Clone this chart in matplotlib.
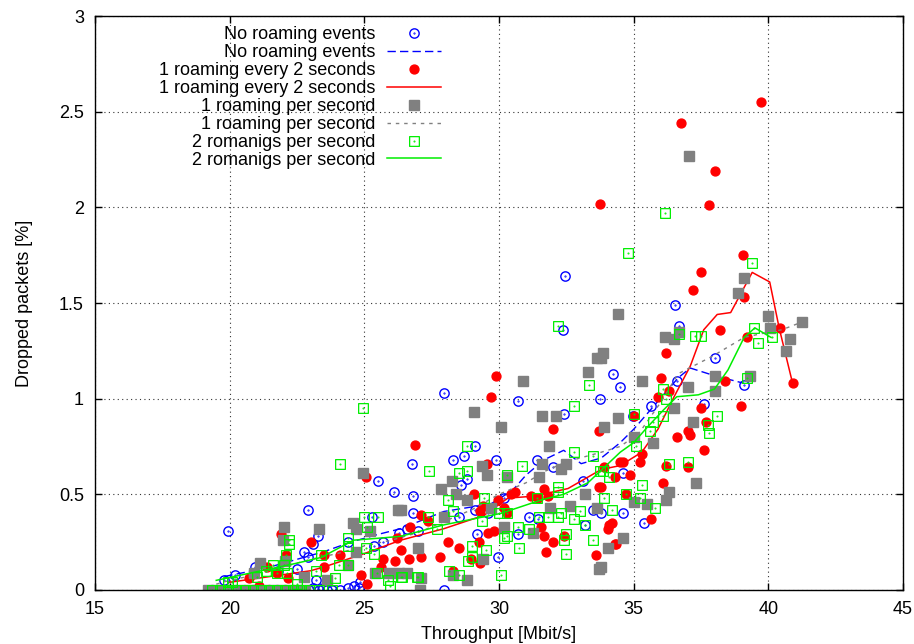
import matplotlib
matplotlib.use("Agg")
import matplotlib.pyplot as plt
from matplotlib.path import Path

plt.rcParams['font.family'] = ['Liberation Sans', 'DejaVu Sans']
plt.rcParams['font.size'] = 13

# ---- scatter data ----
blue_x = [19.95, 22.9, 23.27, 22.75, 22.9, 23.1, 20.2, 20.95, 19.8, 21.8, 22.5, 23.2, 23.1, 23.45,
          23.8, 24.1, 24.4, 24.8, 24.85, 24.6, 25.5, 25.3, 26.1, 26.76, 26.8, 26.8, 25.7, 26.3,
          27.0, 25.35, 24.4, 26.6, 27.95, 28.3, 28.7, 29.1, 29.9, 28.8, 28.6, 28.5, 29.1, 29.6,
          30.2, 29.2, 29.96, 27.95, 30.7, 31.1, 31.45, 32.0, 33.1, 33.5, 33.8, 33.2, 30.7, 32.4,
          33.76, 32.45, 32.38, 34.24, 34.5, 36.55, 36.7, 38.0, 36.6, 35.65, 34.98, 37.6, 39.08,
          34.6, 34.6, 35.4, 31.4, 22.95, 23.3, 23.6]
blue_y = [0.31, 0.42, 0.28, 0.2, 0.17, 0.24, 0.08, 0.12, 0.05, 0.1, 0.11, 0.05, 0.01, 0.01,
          0.0, 0.0, 0.01, 0.01, 0.04, 0.02, 0.57, 0.38, 0.51, 0.66, 0.4, 0.49, 0.25, 0.3,
          0.31, 0.23, 0.25, 0.32, 1.03, 0.68, 0.70, 0.75, 0.68, 0.58, 0.55, 0.38, 0.42, 0.4,
          0.48, 0.29, 0.17, 0.0, 0.29, 0.38, 0.37, 0.64, 0.57, 0.42, 0.4, 0.34, 0.99, 0.92,
          1.0, 1.64, 1.36, 1.13, 1.06, 1.49, 1.38, 1.21, 1.09, 0.96, 0.91, 0.97, 1.07,
          0.61, 0.4, 0.35, 0.68, 0.0, 0.0, 0.0]

red_x = [39.71, 36.77, 38.0, 37.81, 33.76, 39.04, 37.5, 37.2, 39.08, 40.42, 39.2, 40.9, 39.0,
         38.2, 36.2, 36.0, 36.3, 35.9, 38.4, 37.5, 37.7, 37.0, 37.1, 36.6, 37.6, 35.3, 35.25,
         34.6, 36.2, 37.0, 35.0, 34.85, 34.3, 36.07, 35.65, 34.2, 33.8, 34.05, 34.3, 34.7,
         32.0, 33.7, 26.87, 29.55, 29.07, 30.45, 30.6, 29.96, 29.4, 30.2, 31.67, 31.8, 31.45,
         31.2, 27.1, 26.7, 27.35, 29.3, 30.3, 31.56, 31.26, 31.67, 32.0, 31.75, 32.4, 28.1,
         28.5, 29.6, 29.8, 29.25, 29.3, 28.95, 27.8, 27.1, 26.65, 26.35, 28.3, 33.7, 34.1,
         34.35, 33.6, 34.5, 33.9, 25.05, 26.2, 25.7, 26.15, 24.86, 25.1, 25.6, 24.1, 23.5,
         23.5, 23.0, 21.9, 22.1, 21.4, 21.77, 20.7, 21.1, 22.15, 29.9, 29.7]
red_y = [2.55, 2.44, 2.19, 2.01, 2.02, 1.75, 1.66, 1.57, 1.53, 1.37, 1.32, 1.08, 0.96,
         1.36, 1.24, 1.11, 1.04, 1.01, 1.09, 0.95, 0.88, 0.83, 0.81, 0.8, 0.73, 0.71, 0.67,
         0.67, 0.65, 0.64, 0.91, 0.6, 0.59, 0.56, 0.37, 0.35, 0.54, 0.32, 0.24, 0.5,
         0.84, 0.83, 0.76, 0.66, 0.5, 0.5, 0.51, 0.47, 0.44, 0.43, 0.53, 0.49, 0.48,
         0.49, 0.39, 0.33, 0.36, 0.41, 0.4, 0.33, 0.3, 0.28, 0.25, 0.2, 0.28, 0.25,
         0.22, 0.3, 0.31, 0.25, 0.14, 0.16, 0.17, 0.17, 0.16, 0.21, 0.1, 0.54, 0.34,
         0.24, 0.18, 0.67, 0.64, 0.59, 0.27, 0.16, 0.15, 0.08, 0.03, 0.12, 0.18, 0.18,
         0.12, 0.25, 0.29, 0.18, 0.12, 0.09, 0.06, 0.02, 0.06, 1.12, 1.01]

gray_x = [37.07, 39.08, 38.86, 40.0, 40.05, 41.24, 40.8, 40.65, 39.3, 36.15, 36.5, 36.7, 33.87,
          33.8, 35.3, 38.0, 37.0, 38.0, 36.5, 34.4, 33.9, 37.2, 35.0, 35.7, 37.3, 36.3, 36.2,
          35.5, 35.0, 34.6, 34.05, 33.8, 34.4, 33.65, 33.3, 30.9, 29.07, 31.6, 32.1, 30.07,
          31.86, 31.6, 32.5, 32.3, 31.5, 29.37, 29.55, 30.3, 28.25, 27.84, 28.4, 28.8, 29.7,
          31.9, 32.64, 33.2, 33.65, 27.95, 26.35, 27.0, 30.2, 31.26, 33.7, 29.4, 28.8, 28.3,
          26.6, 27.05, 27.1, 24.94, 26.23, 24.56, 24.68, 25.2, 22.0, 21.96, 23.3, 24.7, 23.6,
          22.75, 20.9, 22.07, 21.14, 25.4, 25.9, 26.27, 24.4,
          19.2, 19.5, 19.8, 20.1, 20.4, 20.7, 21.0, 21.3, 21.6, 21.9, 22.2, 22.5, 22.8]
gray_y = [2.27, 1.63, 1.55, 1.43, 1.37, 1.40, 1.31, 1.25, 1.12, 1.32, 1.31, 1.35, 1.24,
          1.21, 1.09, 1.12, 1.06, 1.04, 0.95, 0.9, 0.85, 0.88, 0.8, 0.77, 0.56, 0.51, 0.47,
          0.45, 0.46, 0.27, 0.22, 0.12, 1.44, 1.21, 1.14, 1.09, 0.93, 0.91, 0.91, 0.85,
          0.75, 0.66, 0.66, 0.63, 0.59, 0.65, 0.6, 0.59, 0.57, 0.53, 0.5, 0.47, 0.43,
          0.43, 0.44, 0.5, 0.43, 0.38, 0.42, 0.22, 0.33, 0.3, 0.11, 0.16, 0.05, 0.08,
          0.09, 0.0, 0.06, 0.61, 0.42, 0.35, 0.32, 0.31, 0.33, 0.26, 0.32, 0.2, 0.05,
          0.07, 0.09, 0.15, 0.14, 0.09, 0.09, 0.09, 0.13,
          0, 0, 0, 0, 0, 0, 0, 0, 0, 0, 0, 0, 0]

green_x = [36.18, 34.8, 32.19, 24.94, 24.1, 39.4, 39.45, 40.15, 39.6, 39.2, 36.7, 37.26, 37.5,
           33.35, 32.8, 38.1, 37.74, 37.8, 36.1, 36.2, 35.0, 36.07, 35.7, 35.6, 35.1, 36.3,
           37.0, 33.87, 34.1, 35.3, 34.7, 35.25, 35.8, 33.9, 34.2, 28.8, 27.4, 28.5, 28.8,
           30.85, 30.3, 32.8, 33.5, 33.75, 32.2, 32.2, 28.1, 29.45, 31.4, 28.3, 30.0, 30.3,
           32.3, 33.0, 31.5, 31.8, 32.2, 32.8, 33.2, 27.35, 29.37, 30.7, 31.1, 27.7, 30.3,
           30.2, 32.5, 32.4, 33.5, 29.0, 29.5, 30.75, 28.84, 29.0, 32.5, 28.14, 28.5, 26.4,
           27.0, 30.07, 24.97, 25.5, 25.1, 24.4, 24.4, 25.05, 25.35, 22.2, 22.2, 22.1, 23.4,
           24.05, 24.4, 23.2, 23.9, 22.0, 21.6, 21.35, 21.77, 22.14, 21.0, 20.1, 19.95, 22.5,
           25.45, 25.87, 25.94, 26.35, 26.95,
           19.35, 19.65, 19.95, 20.25, 20.55, 20.85, 21.15, 21.45, 21.75, 22.05, 22.35, 22.65,
           22.95, 23.3, 23.8]
green_y = [1.97, 1.76, 1.38, 0.95, 0.66, 1.71, 1.37, 1.32, 1.29, 1.11, 1.34, 1.33, 1.33,
           1.07, 0.96, 0.91, 0.86, 0.82, 1.05, 1.0, 0.92, 0.91, 0.88, 0.83, 0.75, 0.66,
           0.67, 0.62, 0.59, 0.55, 0.5, 0.48, 0.43, 0.48, 0.42, 0.75, 0.62, 0.61, 0.62,
           0.65, 0.6, 0.72, 0.7, 0.62, 0.54, 0.51, 0.47, 0.48, 0.48, 0.41, 0.4, 0.4,
           0.4, 0.41, 0.38, 0.38, 0.38, 0.37, 0.34, 0.38, 0.36, 0.33, 0.32, 0.32, 0.28,
           0.27, 0.29, 0.26, 0.26, 0.23, 0.21, 0.22, 0.15, 0.17, 0.19, 0.1, 0.08, 0.07,
           0.07, 0.08, 0.38, 0.38, 0.33, 0.27, 0.23, 0.22, 0.19, 0.26, 0.24, 0.18, 0.18,
           0.13, 0.13, 0.1, 0.06, 0.13, 0.13, 0.1, 0.09, 0.09, 0.07, 0.04, 0.04, 0.03,
           0.09, 0.05, 0.02, 0.07, 0.07,
           0, 0, 0, 0, 0, 0, 0, 0, 0, 0, 0, 0,
           0, 0, 0]

# ---- smoothed curves ----
blue_lx = [19.8, 20.5, 21.5, 22.5, 23.5, 24.5, 25.5, 26.35, 27.95, 29.7, 30.5, 31.0, 31.67,
           32.4, 33.05, 33.8, 34.5, 35.0, 35.8, 36.66, 37.1, 38.0, 39.1]
blue_ly = [0.07, 0.09, 0.12, 0.16, 0.2, 0.25, 0.29, 0.32, 0.41, 0.45, 0.52, 0.6, 0.68,
           0.73, 0.66, 0.69, 0.77, 0.84, 0.97, 1.11, 1.16, 1.12, 1.08]

red_lx = [20.0, 21.0, 22.0, 23.0, 23.5, 25.0, 26.35, 27.95, 29.44, 30.33, 31.3, 32.56, 33.8,
          34.5, 35.3, 35.9, 36.5, 37.1, 37.6, 38.1, 38.6, 39.4, 40.05, 40.4, 40.9]
red_ly = [0.04, 0.06, 0.08, 0.1, 0.12, 0.19, 0.26, 0.32, 0.39, 0.48, 0.49, 0.53, 0.63,
          0.65, 0.72, 0.84, 1.01, 1.17, 1.36, 1.44, 1.45, 1.66, 1.61, 1.37, 1.08]

gray_lx = [19.5, 20, 21, 22, 23, 24, 25, 26, 27, 28, 29, 30, 31, 31.7, 32.5, 33.8, 34.5,
           35.2, 36.0, 36.65, 37.9, 39.1, 39.75, 40.5, 41.24]
gray_ly = [0.03, 0.05, 0.08, 0.12, 0.16, 0.19, 0.23, 0.26, 0.3, 0.36, 0.42, 0.5, 0.56,
           0.62, 0.67, 0.72, 0.75, 0.82, 0.98, 1.13, 1.22, 1.32, 1.34, 1.36, 1.40]

green_lx = [19.5, 20.5, 21.5, 22.5, 23.4, 24.6, 25.5, 26.35, 27.95, 30.07, 31.56, 32.4, 33.3,
            34.05, 34.5, 35.0, 35.5, 36.1, 36.6, 37.4, 38.0, 38.5, 39.1, 39.5, 40.1]
green_ly = [0.05, 0.08, 0.11, 0.14, 0.17, 0.26, 0.27, 0.28, 0.34, 0.40, 0.47, 0.5, 0.56,
            0.66, 0.72, 0.77, 0.85, 0.94, 1.01, 1.02, 1.05, 1.15, 1.32, 1.37, 1.32]

labels = ["No roaming events", "1 roaming every 2 seconds",
          "1 roaming per second", "2 romanigs per second"]

# gnuplot-like markers with a centre dot
dot = Path.unit_circle().transformed(matplotlib.transforms.Affine2D().scale(0.08))
circ_dot = Path.make_compound_path(Path.unit_circle(), dot)
sq = Path.unit_rectangle().transformed(matplotlib.transforms.Affine2D().translate(-0.5, -0.5))
sq_dot = Path.make_compound_path(sq, dot.transformed(matplotlib.transforms.Affine2D().scale(0.5)))

fig = plt.figure(figsize=(9.14, 6.44), dpi=100)
ax = fig.add_axes([0.104, 0.084, 0.884, 0.891])

ax.plot(blue_x, blue_y, ls='none', marker=circ_dot, ms=6.7, mfc='none', mec='#0000ff',
        mew=1.0, label=labels[0])
ax.plot(blue_lx, blue_ly, color='#0000ff', lw=1, ls=(0, (6, 3)), label=labels[0])
ax.plot(red_x, red_y, ls='none', marker='o', ms=6.4, color='#ff0000', mec='#ff0000',
        label=labels[1])
ax.plot(red_lx, red_ly, color='#ff0000', lw=1.1, label=labels[1])
ax.plot(gray_x, gray_y, ls='none', marker='s', ms=6.5, color='#808080', label=labels[2])
ax.plot(gray_lx, gray_ly, color='#808080', lw=1, ls=(0, (2.5, 3.5)), label=labels[2])
ax.plot(green_x, green_y, ls='none', marker=sq_dot, ms=7, mfc='none', mec='#00ee00',
        mew=0.9, label=labels[3])
ax.plot(green_lx, green_ly, color='#00ee00', lw=1.1, label=labels[3])

ax.set_xlim(15, 45)
ax.set_ylim(0, 3)
ax.set_xticks(range(15, 46, 5))
ax.set_yticks([0, 0.5, 1, 1.5, 2, 2.5, 3])
ax.set_yticklabels(['0', '0.5', '1', '1.5', '2', '2.5', '3'])
ax.tick_params(direction='in', length=5, width=1, top=True, right=True, labelsize=13, pad=8)
ax.grid(True, color='#333333', ls=(0, (1, 3)), lw=0.8)
for s in ax.spines.values():
    s.set_linewidth(1)

ax.set_xlabel("Throughput [Mbit/s]", fontsize=13, labelpad=6)
ax.set_ylabel("Dropped packets [%]", fontsize=13, labelpad=19)

leg = ax.legend(loc='upper right', bbox_to_anchor=(0.428, 0.982), markerfirst=False,
                frameon=False, fontsize=13, labelspacing=0.05, handlelength=3.0,
                handletextpad=0.6, borderpad=0, borderaxespad=0)

fig.savefig('out.png', dpi=100)
